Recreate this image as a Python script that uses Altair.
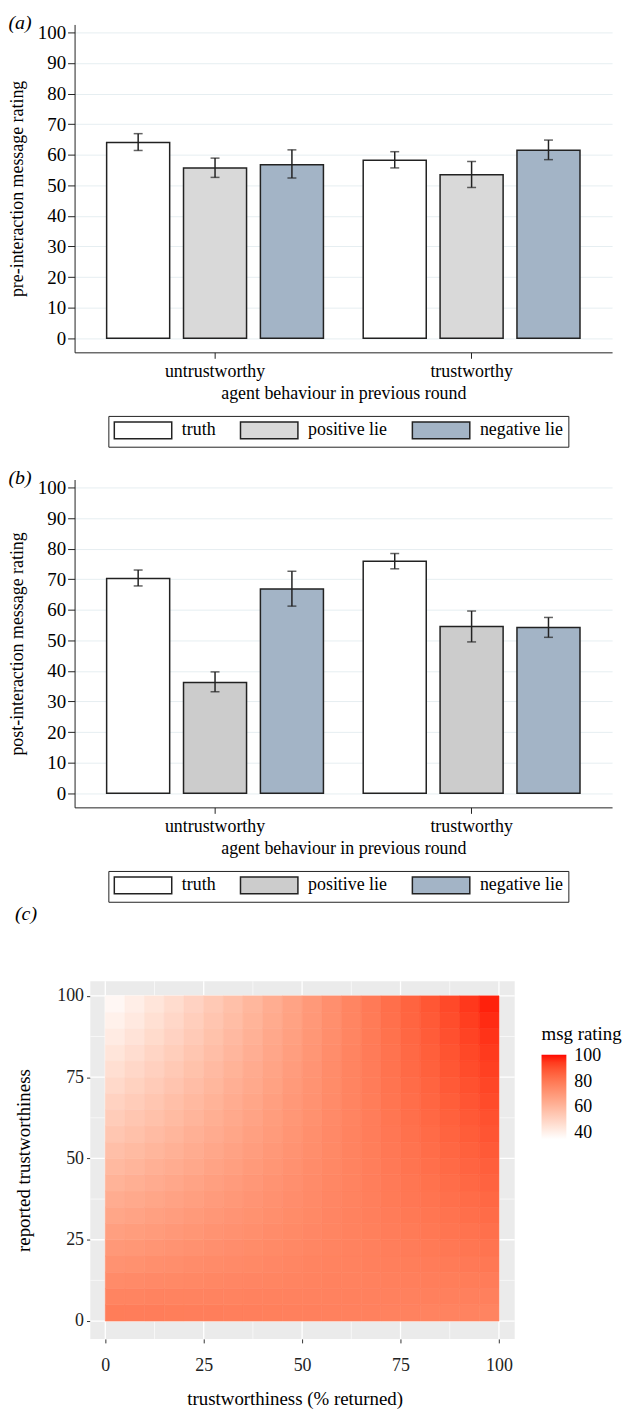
import altair as alt
import pandas as pd

FONT = "Liberation Serif"

# ---------------- panels (a) and (b): grouped bars ----------------
groups = ["untrustworthy", "trustworthy"]
types = ["truth", "positive lie", "negative lie"]

pre_mean = [64.0, 55.7, 56.7, 58.2, 53.5, 61.5]
pre_lo = [61.4, 52.6, 52.4, 55.7, 49.3, 58.4]
pre_hi = [66.9, 58.9, 61.6, 61.0, 57.8, 64.8]

post_mean = [70.2, 36.2, 66.8, 75.9, 54.5, 54.2]
post_lo = [67.8, 33.2, 61.2, 73.4, 49.5, 51.0]
post_hi = [73.0, 39.7, 72.6, 78.4, 59.6, 57.5]

y_ticks = [0, 10, 20, 30, 40, 50, 60, 70, 80, 90, 100]

# ---------------- panel (c): rating surface ----------------
tw_centers = [2.5, 7.5, 12.5, 17.5, 22.5, 27.5, 32.5, 37.5, 42.5, 47.5,
              52.5, 57.5, 62.5, 67.5, 72.5, 77.5, 82.5, 87.5, 92.5, 97.5]
rep_centers = [2.5, 7.5, 12.5, 17.5, 22.5, 27.5, 32.5, 37.5, 42.5, 47.5,
               52.5, 57.5, 62.5, 67.5, 72.5, 77.5, 82.5, 87.5, 92.5, 97.5]
cell_half = 2.5
# rows from reported = 2.5 (bottom) to 97.5 (top); columns trustworthiness 2.5 .. 97.5
rating = [
    [78.8, 78.7, 78.6, 78.5, 78.4, 78.3, 78.1, 78.0, 77.9, 77.8, 77.7, 77.6, 77.5, 77.4, 77.2, 77.1, 77.0, 76.9, 76.8, 76.7],
    [76.7, 76.7, 76.8, 76.8, 76.9, 77.0, 77.0, 77.1, 77.2, 77.2, 77.3, 77.3, 77.4, 77.5, 77.5, 77.6, 77.7, 77.7, 77.8, 77.8],
    [74.5, 74.7, 75.0, 75.2, 75.4, 75.7, 75.9, 76.2, 76.4, 76.6, 76.9, 77.1, 77.3, 77.6, 77.8, 78.1, 78.3, 78.5, 78.8, 79.0],
    [72.3, 72.7, 73.2, 73.6, 74.0, 74.4, 74.8, 75.2, 75.6, 76.0, 76.5, 76.9, 77.3, 77.7, 78.1, 78.5, 78.9, 79.3, 79.8, 80.2],
    [70.2, 70.8, 71.3, 71.9, 72.5, 73.1, 73.7, 74.3, 74.9, 75.5, 76.0, 76.6, 77.2, 77.8, 78.4, 79.0, 79.6, 80.2, 80.7, 81.3],
    [68.0, 68.8, 69.5, 70.3, 71.1, 71.8, 72.6, 73.3, 74.1, 74.9, 75.6, 76.4, 77.2, 77.9, 78.7, 79.4, 80.2, 81.0, 81.7, 82.5],
    [65.8, 66.8, 67.7, 68.7, 69.6, 70.5, 71.5, 72.4, 73.3, 74.3, 75.2, 76.2, 77.1, 78.0, 79.0, 79.9, 80.8, 81.8, 82.7, 83.7],
    [63.7, 64.8, 65.9, 67.0, 68.1, 69.2, 70.4, 71.5, 72.6, 73.7, 74.8, 75.9, 77.0, 78.1, 79.3, 80.4, 81.5, 82.6, 83.7, 84.8],
    [61.5, 62.8, 64.1, 65.4, 66.7, 68.0, 69.2, 70.5, 71.8, 73.1, 74.4, 75.7, 77.0, 78.3, 79.5, 80.8, 82.1, 83.4, 84.7, 86.0],
    [59.4, 60.8, 62.3, 63.7, 65.2, 66.7, 68.1, 69.6, 71.1, 72.5, 74.0, 75.4, 76.9, 78.4, 79.8, 81.3, 82.8, 84.2, 85.7, 87.1],
    [57.2, 58.8, 60.5, 62.1, 63.7, 65.4, 67.0, 68.7, 70.3, 71.9, 73.6, 75.2, 76.8, 78.5, 80.1, 81.8, 83.4, 85.0, 86.7, 88.3],
    [55.0, 56.8, 58.7, 60.5, 62.3, 64.1, 65.9, 67.7, 69.5, 71.3, 73.2, 75.0, 76.8, 78.6, 80.4, 82.2, 84.0, 85.8, 87.7, 89.5],
    [52.9, 54.9, 56.8, 58.8, 60.8, 62.8, 64.8, 66.8, 68.8, 70.8, 72.7, 74.7, 76.7, 78.7, 80.7, 82.7, 84.7, 86.7, 88.6, 90.6],
    [50.7, 52.9, 55.0, 57.2, 59.4, 61.5, 63.7, 65.8, 68.0, 70.2, 72.3, 74.5, 76.7, 78.8, 81.0, 83.1, 85.3, 87.5, 89.6, 91.8],
    [48.5, 50.9, 53.2, 55.6, 57.9, 60.2, 62.6, 64.9, 67.2, 69.6, 71.9, 74.3, 76.6, 78.9, 81.3, 83.6, 85.9, 88.3, 90.6, 93.0],
    [46.4, 48.9, 51.4, 53.9, 56.4, 58.9, 61.5, 64.0, 66.5, 69.0, 71.5, 74.0, 76.5, 79.0, 81.6, 84.1, 86.6, 89.1, 91.6, 94.1],
    [44.2, 46.9, 49.6, 52.3, 55.0, 57.7, 60.3, 63.0, 65.7, 68.4, 71.1, 73.8, 76.5, 79.2, 81.8, 84.5, 87.2, 89.9, 92.6, 95.3],
    [42.1, 44.9, 47.8, 50.6, 53.5, 56.4, 59.2, 62.1, 65.0, 67.8, 70.7, 73.5, 76.4, 79.3, 82.1, 85.0, 87.9, 90.7, 93.6, 96.4],
    [39.9, 42.9, 46.0, 49.0, 52.0, 55.1, 58.1, 61.2, 64.2, 67.2, 70.3, 73.3, 76.3, 79.4, 82.4, 85.5, 88.5, 91.5, 94.6, 97.6],
    [37.7, 40.9, 44.2, 47.4, 50.6, 53.8, 57.0, 60.2, 63.4, 66.6, 69.9, 73.1, 76.3, 79.5, 82.7, 85.9, 89.1, 92.3, 95.6, 98.8],
]
c_major = [0, 25, 50, 75, 100]
c_minor = [12.5, 37.5, 62.5, 87.5]
legend_values = [40, 60, 80, 100]
panel_x = [-3.8, 104]      # extent of the grey ggplot panel (data units)
panel_y = [-5.5, 104.5]


def bar_panel(mean, lo, hi, ytitle, label, gray):
    df = pd.DataFrame({
        "group": [g for g in groups for _ in types],
        "type": types * 2,
        "mean": mean,
        "lo": lo,
        "hi": hi,
    })
    x = alt.X("group:N", sort=groups,
              scale=alt.Scale(paddingInner=0.155, paddingOuter=0.125),
              axis=alt.Axis(title="agent behaviour in previous round", labelAngle=0,
                            labelFont=FONT, labelFontSize=18, labelColor="black",
                            titleFont=FONT, titleFontSize=18, titleFontWeight="normal",
                            titleColor="black", tickSize=6, tickColor="#222",
                            domainColor="#222", labelPadding=4, titlePadding=4,
                            grid=False))
    xo = alt.XOffset("type:N", sort=types, scale=alt.Scale(paddingInner=0.18, paddingOuter=0))
    ysc = alt.Scale(domain=[-4.6, 102.6], nice=False, zero=False)
    yax = alt.Axis(title=ytitle, values=y_ticks, grid=True, gridColor="#E6EEF1",
                   gridWidth=1, labelFont=FONT, labelFontSize=19, labelColor="black",
                   titleFont=FONT, titleFontSize=18, titleFontWeight="normal",
                   titleColor="black", tickSize=7, tickColor="#222", domainColor="#222",
                   labelPadding=2, titlePadding=11)
    bars = alt.Chart(df).mark_bar(stroke="#222", strokeWidth=1.5).encode(
        x=x, xOffset=xo,
        y=alt.Y("mean:Q", scale=ysc, axis=yax),
        y2=alt.datum(0),
        color=alt.Color("type:N", sort=types,
                        scale=alt.Scale(domain=types, range=["#ffffff", gray, "#a3b4c6"]),
                        legend=alt.Legend(title=None, orient="none", legendX=34, legendY=394,
                                          direction="horizontal",
                                          symbolType="M-1,-1H5.8V1H-1Z", symbolSize=289,
                                          symbolStrokeColor="#222", symbolStrokeWidth=1.5,
                                          symbolOpacity=1, labelFont=FONT, labelFontSize=18,
                                          labelColor="black", labelOffset=50,
                                          columnPadding=22, strokeColor="#222", padding=5)),
    )
    rules = alt.Chart(df).mark_rule(color="#222", strokeWidth=1.5).encode(
        x=x, xOffset=xo,
        y=alt.Y("lo:Q", scale=ysc, axis=yax),
        y2="hi:Q",
    )
    cap_lo = alt.Chart(df).mark_tick(color="#222", thickness=1.5, size=9).encode(
        x=x, xOffset=xo, y=alt.Y("lo:Q", scale=ysc, axis=yax))
    cap_hi = alt.Chart(df).mark_tick(color="#222", thickness=1.5, size=9).encode(
        x=x, xOffset=xo, y=alt.Y("hi:Q", scale=ysc, axis=yax))
    return alt.layer(bars, rules, cap_lo, cap_hi).properties(
        width=541, height=330,
        title=alt.TitleParams(label, anchor="start", frame="bounds", font=FONT,
                              fontStyle="italic", fontWeight="normal", fontSize=20,
                              color="black", offset=-10),
    )


panel_a = bar_panel(pre_mean, pre_lo, pre_hi, "pre-interaction message rating", "(a)", "#d9d9d9")
panel_b = bar_panel(post_mean, post_lo, post_hi, "post-interaction message rating", "(b)", "#cccccc")

rows = []
for j, r in enumerate(rep_centers):
    for i, t in enumerate(tw_centers):
        rows.append({"x0": t - cell_half, "x1": t + cell_half,
                     "y0": r - cell_half, "y1": r + cell_half,
                     "rating": rating[j][i]})
df_heat = pd.DataFrame(rows)

xsc_c = alt.Scale(domain=[-7.8, 104], nice=False, zero=False)
ysc_c = alt.Scale(domain=[-5.5, 104.5], nice=False, zero=False)
x_ax_c = alt.Axis(title="trustworthiness (% returned)", values=c_major, grid=False,
                  tickColor="#333", tickSize=4, domain=False, labelFont=FONT,
                  labelFontSize=18, labelColor="#222", titleFont=FONT, titleFontSize=19,
                  titleFontWeight="normal", titleColor="black", labelPadding=14,
                  titlePadding=15)
y_ax_c = alt.Axis(title="reported trustworthiness", values=c_major, grid=False,
                  tickColor="#333", tickSize=4, domain=False, labelFont=FONT,
                  labelFontSize=18, labelColor="#222", titleFont=FONT, titleFontSize=19,
                  titleFontWeight="normal", titleColor="black", labelPadding=3,
                  titlePadding=23, offset=-16)

bg = alt.Chart(pd.DataFrame({"x0": [panel_x[0]], "x1": [panel_x[1]],
                             "y0": [panel_y[0]], "y1": [panel_y[1]]})).mark_rect(
    color="#EBEBEB").encode(
    x=alt.X("x0:Q", scale=xsc_c, axis=x_ax_c), x2="x1:Q",
    y=alt.Y("y0:Q", scale=ysc_c, axis=y_ax_c), y2="y1:Q")

df_vmaj = pd.DataFrame({"v": c_major, "lo": panel_y[0], "hi": panel_y[1]})
df_vmin = pd.DataFrame({"v": c_minor, "lo": panel_y[0], "hi": panel_y[1]})
df_hmaj = pd.DataFrame({"v": c_major, "lo": panel_x[0], "hi": panel_x[1]})
df_hmin = pd.DataFrame({"v": c_minor, "lo": panel_x[0], "hi": panel_x[1]})


def vgrid(df, w):
    return alt.Chart(df).mark_rule(color="white", strokeWidth=w).encode(
        x=alt.X("v:Q", scale=xsc_c, axis=x_ax_c),
        y=alt.Y("lo:Q", scale=ysc_c, axis=y_ax_c), y2="hi:Q")


def hgrid(df, w):
    return alt.Chart(df).mark_rule(color="white", strokeWidth=w).encode(
        y=alt.Y("v:Q", scale=ysc_c, axis=y_ax_c),
        x=alt.X("lo:Q", scale=xsc_c, axis=x_ax_c), x2="hi:Q")


col_scale = alt.Scale(domain=[35, 101], range=["#ffffff", "#ff0000"], interpolate="lab")
heat = alt.Chart(df_heat).mark_rect(strokeWidth=0.6).encode(
    x=alt.X("x0:Q", scale=xsc_c, axis=x_ax_c),
    x2="x1:Q",
    y=alt.Y("y0:Q", scale=ysc_c, axis=y_ax_c),
    y2="y1:Q",
    color=alt.Color("rating:Q", scale=col_scale,
                    legend=alt.Legend(type="gradient", title="msg rating", orient="none",
                                      legendX=470, legendY=44, direction="vertical",
                                      gradientLength=85, gradientThickness=25,
                                      values=legend_values, gradientStrokeWidth=0,
                                      titleFont=FONT, titleFontSize=19,
                                      titleFontWeight="normal", titleColor="black",
                                      labelFont=FONT, labelFontSize=18, labelColor="black",
                                      labelOffset=8, titlePadding=11)),
    stroke=alt.Stroke("rating:Q", scale=col_scale, legend=None),
)

panel_c = alt.layer(bg, vgrid(df_vmin, 0.6), hgrid(df_hmin, 0.6),
                    vgrid(df_vmaj, 1.3), hgrid(df_hmaj, 1.3), heat).properties(
    width=443, height=360,
    title=alt.TitleParams("(c)", anchor="start", frame="bounds", font=FONT,
                          fontStyle="italic", fontWeight="normal", fontSize=20,
                          color="black", offset=57),
)

top = alt.concat(panel_a, panel_b, columns=1, align="none", spacing=20).resolve_scale(
    color="independent"
).resolve_legend(color="independent")
chart = alt.concat(top, panel_c, columns=1, align="none", spacing=0).resolve_scale(
    color="independent"
).resolve_legend(color="independent").properties(
    padding=0
).configure(font=FONT).configure_view(stroke="transparent")

chart.save("out.html", embed_options={"renderer": "svg", "actions": False})
